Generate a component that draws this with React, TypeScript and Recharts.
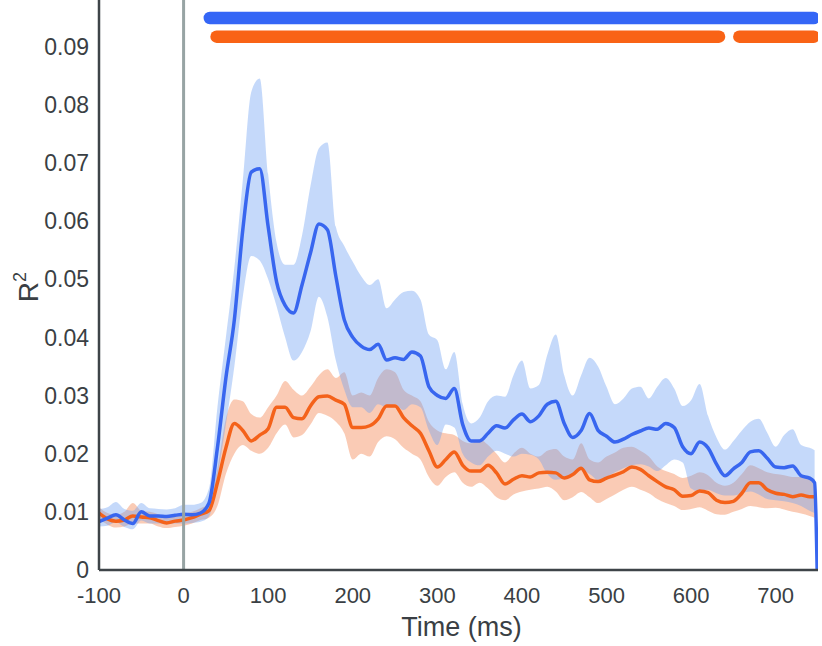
import React from "react";
import { ComposedChart, Area, Line, XAxis, YAxis, ReferenceLine } from "recharts";

// time axis (ms) – last sample is where the blue trace drops back to 0
const TIME_MS = [
  -100, -90, -80, -70, -60, -50, -40, -30, -20, -10,
  0, 10, 20, 30, 40, 50, 60, 70, 80, 90,
  100, 110, 120, 130, 140, 150, 160, 170, 180, 190,
  200, 210, 220, 230, 240, 250, 260, 270, 280, 290,
  300, 310, 320, 330, 340, 350, 360, 370, 380, 390,
  400, 410, 420, 430, 440, 450, 460, 470, 480, 490,
  500, 510, 520, 530, 540, 550, 560, 570, 580, 590,
  600, 610, 620, 630, 640, 650, 660, 670, 680, 690,
  700, 710, 720, 730, 740, 746, 749,
];

const BLUE_MEAN = [
  0.0083, 0.0089, 0.0095, 0.0086, 0.008, 0.01, 0.0093, 0.0093, 0.0092, 0.0094,
  0.0096, 0.0095, 0.0098, 0.0115, 0.021, 0.033, 0.043, 0.0585, 0.0684, 0.069,
  0.059, 0.0495, 0.0455, 0.0442, 0.049, 0.0545, 0.0595, 0.0585, 0.0505, 0.043,
  0.04, 0.0385, 0.0379, 0.0388, 0.0361, 0.0365, 0.0362, 0.0375, 0.0368, 0.0315,
  0.03, 0.0295, 0.0312, 0.025, 0.0222, 0.0222, 0.0235, 0.0248, 0.0244, 0.0258,
  0.0268, 0.0255, 0.0265, 0.0285, 0.029, 0.0252, 0.0228, 0.024, 0.0269, 0.024,
  0.023, 0.022, 0.0225, 0.0233, 0.0239, 0.0244, 0.0242, 0.0252, 0.0245, 0.0212,
  0.02, 0.022, 0.021, 0.0182, 0.0162, 0.0174, 0.0185, 0.0203, 0.0205, 0.0192,
  0.0177, 0.0176, 0.0179, 0.0162, 0.0158, 0.015, 0,
];

const BLUE_HI = [
  0.0105, 0.0108, 0.0117, 0.0105, 0.0102, 0.0115, 0.0106, 0.0105, 0.0104, 0.0106,
  0.0112, 0.0112, 0.0115, 0.014, 0.028, 0.04, 0.052, 0.067, 0.0822, 0.0845,
  0.068, 0.0562, 0.0525, 0.0525, 0.0575, 0.066, 0.0725, 0.0735, 0.059, 0.0557,
  0.053, 0.0505, 0.049, 0.05, 0.045, 0.0465, 0.0478, 0.048, 0.0465, 0.0405,
  0.0395, 0.0345, 0.0375, 0.0285, 0.0252, 0.0262, 0.029, 0.03, 0.0298, 0.0335,
  0.036, 0.0312, 0.0318, 0.037, 0.0405, 0.0335, 0.03, 0.0335, 0.0365, 0.035,
  0.0315, 0.0285, 0.0295, 0.0312, 0.0315, 0.0295, 0.0315, 0.033, 0.0312, 0.0282,
  0.0292, 0.032, 0.0265, 0.0228, 0.0207, 0.0222, 0.024, 0.0255, 0.026, 0.0236,
  0.0212, 0.0232, 0.0242, 0.0215, 0.021, 0.0206, null,
];

const BLUE_LO = [
  0.0075, 0.0076, 0.0082, 0.0074, 0.007, 0.0085, 0.008, 0.008, 0.0079, 0.008,
  0.008, 0.0081, 0.0083, 0.0092, 0.016, 0.025, 0.035, 0.047, 0.054, 0.0532,
  0.05, 0.0453, 0.04, 0.036, 0.0375, 0.041, 0.047, 0.0435, 0.036, 0.031,
  0.028, 0.028, 0.027, 0.0285, 0.028, 0.0285, 0.0275, 0.0285, 0.028, 0.024,
  0.0215, 0.025, 0.0245, 0.02, 0.0185, 0.018, 0.0195, 0.0205, 0.02, 0.0195,
  0.02, 0.0198, 0.019, 0.0165, 0.0155, 0.0158, 0.0165, 0.0172, 0.0165, 0.0155,
  0.016, 0.0168, 0.0175, 0.018, 0.0182, 0.0178, 0.017, 0.018, 0.019, 0.0185,
  0.014, 0.0135, 0.0138, 0.0132, 0.0128, 0.0128, 0.0132, 0.0135, 0.013, 0.0122,
  0.012, 0.0118, 0.0115, 0.011, 0.0102, 0.0098, null,
];

const ORANGE_MEAN = [
  0.0098, 0.0088, 0.0084, 0.0086, 0.0093, 0.0091, 0.009, 0.0085, 0.0081, 0.0084,
  0.0086, 0.009, 0.0096, 0.0102, 0.015, 0.021, 0.0252, 0.024, 0.0222, 0.0232,
  0.0243, 0.028, 0.028, 0.0262, 0.026, 0.0282, 0.0298, 0.0299, 0.0292, 0.0285,
  0.0245, 0.0245, 0.0248, 0.026, 0.0282, 0.0282, 0.0262, 0.0248, 0.0235, 0.0205,
  0.0177, 0.019, 0.0203, 0.018, 0.017, 0.017, 0.018, 0.0167, 0.0148, 0.0156,
  0.0162, 0.016, 0.0167, 0.0168, 0.0167, 0.0158, 0.0164, 0.0175, 0.0155, 0.0152,
  0.0158, 0.0163, 0.0169, 0.0177, 0.0173, 0.0162, 0.0152, 0.0143, 0.0138, 0.0127,
  0.0128, 0.0136, 0.0133, 0.012, 0.0116, 0.0118, 0.0132, 0.015, 0.015, 0.0138,
  0.0132, 0.013, 0.0126, 0.0129, 0.0126, 0.0126, null,
];

const ORANGE_HI = [
  0.0108, 0.0098, 0.0095, 0.01, 0.0115, 0.0102, 0.01, 0.0096, 0.0092, 0.0095,
  0.0097, 0.01, 0.0106, 0.0115, 0.0175, 0.026, 0.0293, 0.029, 0.0268, 0.0262,
  0.028, 0.03, 0.0325, 0.031, 0.03, 0.0315, 0.0335, 0.0345, 0.033, 0.034,
  0.03, 0.0305, 0.03, 0.033, 0.0345, 0.034, 0.031, 0.03, 0.029, 0.0255,
  0.024, 0.0235, 0.0232, 0.0222, 0.0218, 0.0225, 0.0215, 0.02, 0.0185, 0.02,
  0.021, 0.02, 0.0195, 0.0205, 0.0208, 0.0195, 0.019, 0.0218, 0.019, 0.0185,
  0.0195, 0.0202, 0.021, 0.0212, 0.0205, 0.0195, 0.0178, 0.017, 0.0165, 0.0158,
  0.0162, 0.0168, 0.0163, 0.015, 0.0145, 0.015, 0.0165, 0.018, 0.0175, 0.0168,
  0.0165, 0.0163, 0.016, 0.016, 0.0158, 0.0155, null,
];

const ORANGE_LO = [
  0.0088, 0.0078, 0.0073, 0.0075, 0.008, 0.008, 0.008, 0.0075, 0.0072, 0.0074,
  0.0076, 0.008, 0.0086, 0.009, 0.011, 0.0165, 0.02, 0.0215, 0.0205, 0.02,
  0.021, 0.0235, 0.025, 0.0228, 0.0232, 0.025, 0.027, 0.0265, 0.0255, 0.0235,
  0.019, 0.02, 0.0195, 0.022, 0.023, 0.0225, 0.021, 0.02, 0.019, 0.016,
  0.0145, 0.016, 0.0168, 0.015, 0.0143, 0.015, 0.014, 0.0125, 0.012, 0.013,
  0.0135, 0.0138, 0.014, 0.0143, 0.0135, 0.012, 0.0125, 0.0134, 0.0125, 0.0115,
  0.0122, 0.013, 0.0138, 0.0143, 0.0138, 0.0132, 0.0122, 0.0115, 0.011, 0.0103,
  0.0105, 0.0108, 0.0102, 0.0096, 0.0095, 0.01, 0.0105, 0.011, 0.0108, 0.0106,
  0.0107, 0.0104, 0.01, 0.0097, 0.0093, 0.009, null,
];

// significance bars: [start, end] in ms
const SIG_BLUE = [[31, 745]];
const SIG_ORANGE = [[39, 633], [657, 745]];
const SIG_BLUE_LEVEL = 0.0949;
const SIG_ORANGE_LEVEL = 0.0917;

const X_TICKS = [-100, 0, 100, 200, 300, 400, 500, 600, 700];
const Y_TICKS = [0, 0.01, 0.02, 0.03, 0.04, 0.05, 0.06, 0.07, 0.08, 0.09];

const BLUE = "#3866ef";
const ORANGE = "#f4621a";
const AXIS = "#3e4448";
const TEXT = "#3a3f44";
const FONT = "'Liberation Sans', Arial, Helvetica, sans-serif";

const rows = TIME_MS.map((t, i) => ({
  t,
  blue: BLUE_MEAN[i],
  orange: ORANGE_MEAN[i],
  blueBand: BLUE_LO[i] == null ? null : [BLUE_LO[i], BLUE_HI[i]],
  orangeBand: ORANGE_LO[i] == null ? null : [ORANGE_LO[i], ORANGE_HI[i]],
}));

const segData = (seg: number[], level: number) => [
  { t: seg[0], sig: level },
  { t: seg[1], sig: level },
];

const YLabel = () => (
  <text
    transform="translate(38,287) rotate(-90)"
    textAnchor="middle"
    fill={TEXT}
    fontSize={28}
    fontFamily={FONT}
  >
    R
    <tspan fontSize={18} dy={-12}>
      2
    </tspan>
  </text>
);

const XLabel = (props: any) => {
  const vb = props?.viewBox;
  const cx = vb ? vb.x + vb.width / 2 : 458;
  return (
    <text x={cx + 3} y={636} textAnchor="middle" fill={TEXT} fontSize={27} fontFamily={FONT}>
      Time (ms)
    </text>
  );
};

export default function App() {
  return (
    <div style={{ position: "fixed", left: 0, top: 0, width: 822, height: 646, background: "#fff" }}>
      <ComposedChart
        width={822}
        height={646}
        data={rows}
        margin={{ top: 0, right: 4, bottom: 0, left: 0 }}
      >
        <XAxis
          type="number"
          dataKey="t"
          domain={[-100, 750]}
          ticks={X_TICKS}
          allowDataOverflow
          height={76}
          tickLine={false}
          tickSize={0}
          tickMargin={17}
          axisLine={{ stroke: AXIS, strokeWidth: 2.5 }}
          tick={{ fill: TEXT, fontSize: 22, fontFamily: FONT }}
          label={XLabel}
        />
        <YAxis
          type="number"
          domain={[0, 0.098]}
          ticks={Y_TICKS}
          allowDataOverflow
          width={99}
          tickLine={false}
          tickSize={0}
          tickMargin={10}
          axisLine={{ stroke: AXIS, strokeWidth: 2.5 }}
          tick={{ fill: TEXT, fontSize: 23, fontFamily: FONT }}
          tickFormatter={(v: number) => (v === 0 ? "0" : v.toFixed(2))}
          label={YLabel}
        />

        <Area
          type="monotone"
          dataKey="orangeBand"
          stroke="none"
          fill="#f27d45"
          fillOpacity={0.4}
          isAnimationActive={false}
        />
        <Line
          type="monotone"
          dataKey="orange"
          stroke={ORANGE}
          strokeWidth={3.5}
          dot={false}
          activeDot={false}
          isAnimationActive={false}
        />
        <Area
          type="monotone"
          dataKey="blueBand"
          stroke="none"
          fill="#6e9ff2"
          fillOpacity={0.4}
          isAnimationActive={false}
        />
        <Line
          type="monotone"
          dataKey="blue"
          stroke={BLUE}
          strokeWidth={3.5}
          dot={false}
          activeDot={false}
          isAnimationActive={false}
        />

        {SIG_BLUE.map((seg, i) => (
          <Line
            key={`sb${i}`}
            data={segData(seg, SIG_BLUE_LEVEL)}
            dataKey="sig"
            stroke="#3466f6"
            strokeWidth={12.5}
            strokeLinecap="round"
            dot={false}
            activeDot={false}
            isAnimationActive={false}
          />
        ))}
        {SIG_ORANGE.map((seg, i) => (
          <Line
            key={`so${i}`}
            data={segData(seg, SIG_ORANGE_LEVEL)}
            dataKey="sig"
            stroke="#f96316"
            strokeWidth={12.5}
            strokeLinecap="round"
            dot={false}
            activeDot={false}
            isAnimationActive={false}
          />
        ))}

        <ReferenceLine x={0} stroke="#97a4a4" strokeWidth={3} />
      </ComposedChart>
    </div>
  );
}
